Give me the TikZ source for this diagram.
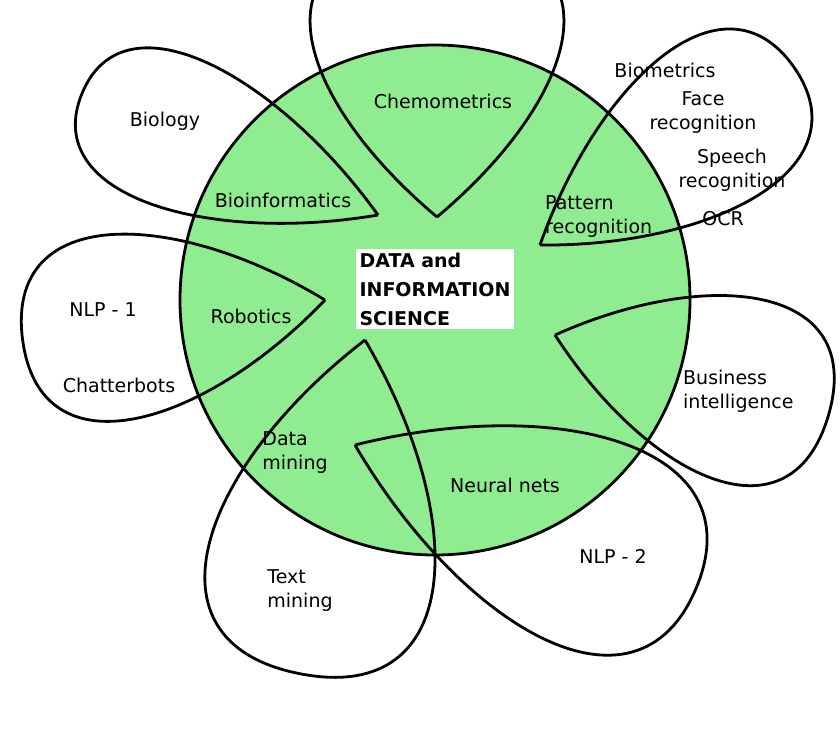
\documentclass[tikz,border=0pt]{standalone}
\usepackage{fontspec}
\setmainfont{DejaVu Sans}
\definecolor{lgreen}{RGB}{144,236,144}
\tikzset{
  lbl/.style={font=\fontsize{19}{24}\selectfont, inner sep=0pt},
  ln/.style={line width=2.8pt, black, line join=round},
}
\newcommand{\mypetal}[4]{%
  \draw[ln, shift={(#1)}, rotate=#2]
    (0,0) .. controls ({0.45*#3},{#4}) and ({#3},{1.25*#4}) .. ({#3},0)
          .. controls ({#3},{-1.25*#4}) and ({0.45*#3},{-#4}) .. (0,0);}
\begin{document}
\begin{tikzpicture}[x=1pt,y=-1pt]
\fill[white] (0,0) rectangle (840,728);
\useasboundingbox (0,0) rectangle (840,728);
\fill[lgreen] (435,300) circle (255);
\draw[ln] (435,300) circle (255);
\begin{scope}
\clip (0,0) rectangle (840,728);
\mypetal{437,217}{90}{280}{150}
\mypetal{378,215}{157.7}{320}{90}
\mypetal{540,245}{35}{310}{100}
\mypetal{325,300}{187.5}{305}{110}
\mypetal{555,335}{-16.5}{285}{110}
\mypetal{365,340}{-101}{340}{135}
\mypetal{355,445}{-22.8}{370}{125}
\end{scope}
\node[fill=white, inner sep=4pt, align=left, font=\fontsize{19}{29}\selectfont\bfseries] (title) at (435,289) {DATA and\\INFORMATION\\SCIENCE};
\node[lbl] (chem) at (443,101) {Chemometrics};
\node[lbl] (bio) at (165,121) {Biology};
\node[lbl] (bioinf) at (283,200) {Bioinformatics};
\node[lbl] (biom) at (665,70) {Biometrics};
\node[lbl, align=center] (face) at (703,113) {Face\\recognition};
\node[lbl, align=center] (speech) at (732,170) {Speech\\recognition};
\node[lbl] (ocr) at (723,219) {OCR};
\node[lbl, align=left, anchor=west] (patt) at (545,217) {Pattern\\recognition};
\node[lbl] (rob) at (251,316) {Robotics};
\node[lbl] (nlp1) at (103,310) {NLP - 1};
\node[lbl] (chat) at (119,385) {Chatterbots};
\node[lbl, align=left, anchor=west] (bus) at (683,391) {Business\\intelligence};
\node[lbl, align=left] (dm) at (295,453) {Data\\mining};
\node[lbl] (nn) at (505,485) {Neural nets};
\node[lbl] (nlp2) at (613,556) {NLP - 2};
\node[lbl, align=left] (tm) at (300,591) {Text\\mining};
\end{tikzpicture}
\end{document}
